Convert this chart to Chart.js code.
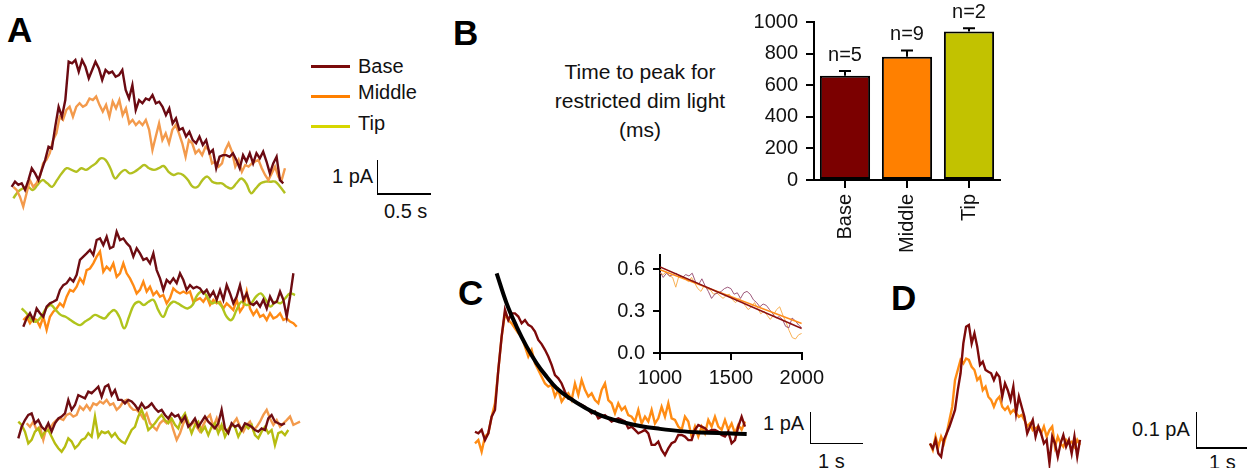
<!DOCTYPE html>
<html>
<head>
<meta charset="utf-8">
<script src="https://cdn.jsdelivr.net/npm/chart.js@4.4.0/dist/chart.umd.min.js"></script>
<style>
  body { margin: 0; background: #fff; font-family: "Liberation Sans", Arial, sans-serif; color: #111; }
  #fig { position: relative; width: 1247px; height: 468px; overflow: hidden; }
  canvas { position: absolute; }
  .txt { position: absolute; font-size: 20px; line-height: 20px; white-space: nowrap; }
  .letter { position: absolute; font-size: 35px; line-height: 35px; font-weight: bold; color: #000; }
  .key { position: absolute; left: 311px; width: 39px; height: 3px; }
  .bar { position: absolute; background: #000; }
</style>
</head>
<body>
<div id="fig">
  <div class="letter" style="left:7px;top:12px">A</div>
  <div class="letter" style="left:453px;top:15px">B</div>
  <div class="letter" style="left:458px;top:275px">C</div>
  <div class="letter" style="left:891px;top:280px">D</div>

  <div class="key" style="top:64.5px;background:#7a0a0a"></div>
  <div class="txt" style="left:358px;top:56px">Base</div>
  <div class="key" style="top:94.5px;background:#ff8000"></div>
  <div class="txt" style="left:358px;top:82px">Middle</div>
  <div class="key" style="top:124.5px;background:#d6d600"></div>
  <div class="txt" style="left:358px;top:113px">Tip</div>

  <div class="bar" style="left:376.5px;top:160px;width:1.5px;height:35px"></div>
  <div class="bar" style="left:376.5px;top:193px;width:54px;height:1.5px"></div>
  <div class="txt" style="left:332px;top:166px">1 pA</div>
  <div class="txt" style="left:384px;top:201px">0.5 s</div>

  <div class="txt" style="left:540px;top:57px;width:200px;text-align:center;font-size:21px;line-height:29px;white-space:normal">Time to peak for<br>restricted dim light<br>(ms)</div>

  <div class="bar" style="left:809.5px;top:411.5px;width:1.5px;height:32.5px"></div>
  <div class="bar" style="left:809.5px;top:442.5px;width:53px;height:1.5px"></div>
  <div class="txt" style="left:763px;top:413px">1 pA</div>
  <div class="txt" style="left:818px;top:451px">1 s</div>

  <div class="bar" style="left:1195.5px;top:411.5px;width:1.5px;height:37px"></div>
  <div class="bar" style="left:1195.5px;top:447px;width:51px;height:1.5px"></div>
  <div class="txt" style="left:1132px;top:419px">0.1 pA</div>
  <div class="txt" style="left:1209px;top:452px">1 s</div>

  <canvas id="rowOne" width="300" height="180" style="left:0;top:40px"></canvas>
  <canvas id="rowTwo" width="300" height="130" style="left:0;top:210px"></canvas>
  <canvas id="rowThree" width="305" height="100" style="left:0;top:365px"></canvas>
  <canvas id="barsB" width="280" height="260" style="left:740px;top:0"></canvas>
  <canvas id="tracesC" width="300" height="210" style="left:460px;top:260px"></canvas>
  <canvas id="insetC" width="230" height="160" style="left:600px;top:235px"></canvas>
  <canvas id="tracesD" width="230" height="160" style="left:900px;top:310px"></canvas>
</div>

<script>
Chart.defaults.font.family = '"Liberation Sans", Arial, sans-serif';
Chart.defaults.color = '#111';

// ---- panel A (current in pA, time in s) ----
var rowOneBase = [0.10,0.26,0.16,0.21,0.00,0.31,0.68,0.52,0.31,0.63,0.94,1.35,1.30,1.98,2.60,2.29,2.81,4.01,3.96,4.06,
  3.70,4.06,3.85,3.49,3.75,4.01,3.80,3.44,3.75,3.65,3.70,3.54,3.59,3.75,3.13,2.86,3.28,2.50,2.81,2.71,
  2.86,2.81,2.97,2.71,2.76,2.60,2.34,2.55,2.08,2.24,1.88,1.93,1.67,1.82,1.56,1.46,1.67,1.41,1.56,1.15,
  1.25,0.68,1.04,1.09,1.09,1.04,1.15,0.94,0.68,1.09,0.89,1.15,0.83,1.15,0.99,1.20,0.89,0.52,0.83,1.04,0.31,0.21];
var rowOneMiddle = [0.10,0.00,-0.21,-0.52,-0.10,0.31,0.10,0.21,0.42,0.83,0.94,1.15,1.56,1.77,2.29,2.19,2.50,2.60,2.29,2.60,
  2.71,2.60,2.66,2.86,2.81,2.92,2.66,2.45,2.66,2.29,2.76,2.55,2.81,2.34,2.55,2.08,2.19,2.03,2.14,2.03,
  2.19,1.88,1.25,1.67,2.08,1.56,1.77,1.46,1.88,2.03,1.77,1.46,1.04,1.56,1.46,1.15,1.25,1.09,1.35,1.25,
  0.83,0.89,0.73,0.83,1.25,1.46,1.20,0.73,0.94,0.57,0.78,0.73,0.83,0.89,0.94,0.68,0.47,0.31,0.52,0.73,0.42,0.31,0.68];
var rowOneTip = [-0.26,-0.05,0.05,0.10,0.00,0.16,0.31,0.21,0.10,0.31,0.52,0.68,0.63,0.57,0.68,0.63,0.73,0.83,0.99,0.94,
  0.68,0.36,0.52,0.63,0.52,0.57,0.68,0.78,0.68,0.63,0.68,0.75,0.57,0.47,0.52,0.47,0.31,0.10,0.10,0.31,
  0.42,0.26,0.21,0.21,0.10,0.05,0.21,0.36,0.21,-0.10,0.05,0.21,0.26,0.26,0.26,0.10,-0.10];

var rowTwoBase = [-0.21,0.05,0.21,0.00,0.36,0.21,0.10,0.42,0.52,0.57,0.63,0.94,1.09,1.15,1.30,1.20,1.41,1.88,1.98,2.08,
  2.19,2.03,2.50,2.55,2.34,2.60,2.24,2.29,2.76,2.50,2.55,2.40,2.29,1.98,2.24,2.08,1.88,1.93,1.77,2.08,
  1.56,1.30,0.94,1.25,1.15,1.30,1.15,1.46,1.25,0.94,1.09,0.99,1.04,0.99,0.83,0.94,0.73,0.89,0.63,0.94,
  0.63,1.09,0.83,0.52,0.73,1.09,0.63,0.83,0.52,0.47,0.57,0.42,0.63,0.36,0.73,0.52,0.57,0.89,0.63,0.10,0.73,1.46];
var rowTwoMiddle = [0.00,0.10,-0.10,0.05,0.00,-0.21,0.10,-0.31,0.10,0.26,0.36,0.52,0.42,0.73,0.94,0.89,1.04,1.30,1.15,1.56,
  1.61,1.77,1.98,2.14,1.51,1.67,1.56,1.77,1.35,1.46,1.77,1.46,1.30,1.09,0.83,0.94,1.20,0.89,1.04,0.78,
  0.89,0.73,0.78,0.52,0.68,0.99,0.89,0.83,0.89,0.83,0.89,0.57,0.63,0.68,0.57,0.73,0.47,0.63,0.52,0.57,
  0.36,0.52,0.42,0.31,0.63,0.26,0.42,0.89,0.36,0.16,0.31,0.10,0.16,0.00,0.21,0.05,0.10,0.21,0.00,0.05,-0.05,-0.10,-0.21];
var rowTwoTip = [0.36,0.21,0.00,-0.05,0.10,0.36,0.47,0.31,0.16,0.10,0.00,-0.10,-0.16,-0.05,0.05,0.16,0.10,0.05,0.21,0.31,
  0.10,-0.26,0.10,0.47,0.57,0.47,0.57,0.63,0.31,0.10,0.42,0.57,0.52,0.42,0.36,0.47,0.78,0.89,0.73,0.52,
  0.57,0.42,0.10,0.00,0.31,0.57,0.47,0.52,0.73,0.83,0.63,0.42,0.57,0.52,0.68,0.83,0.78];

var rowThreeBase = [-0.26,0.10,0.31,0.47,0.52,0.21,0.31,0.10,0.00,0.21,-0.05,0.21,0.36,0.42,0.52,0.94,0.63,0.78,1.09,1.04,
  0.99,1.20,1.15,1.25,1.35,1.04,1.35,1.41,1.09,1.25,0.94,0.94,0.83,0.94,0.89,0.78,0.63,0.83,0.68,0.73,
  0.83,0.68,0.57,0.63,0.47,0.36,0.52,0.42,0.47,0.26,0.42,0.10,0.21,0.36,0.10,0.26,0.42,0.26,0.16,0.05,
  0.21,0.63,0.05,-0.10,0.21,0.10,0.16,0.00,0.21,0.16,0.10,0.00,-0.05,0.05,0.00,0.36,0.47,0.26,0.21,0.16,0.21];
var rowThreeMiddle = [0.21,0.10,0.26,0.00,0.10,-0.31,0.10,0.05,0.21,0.31,0.36,0.31,0.47,0.52,0.42,0.47,0.73,0.63,0.78,0.63,
  0.83,0.78,0.89,0.83,0.94,0.78,0.83,0.63,0.73,0.89,0.94,0.73,0.63,0.63,0.52,0.36,0.52,0.21,0.10,0.00,
  0.21,0.31,0.21,0.36,0.00,-0.31,-0.10,0.21,0.36,0.10,0.26,0.10,-0.05,0.16,0.36,0.47,0.10,0.36,0.00,0.10,
  -0.05,0.10,0.21,0.36,0.10,-0.05,0.16,0.26,0.00,0.10,0.26,0.47,0.63,0.36,0.16,0.31,0.10,0.21,0.31,0.42,0.16,0.21,0.26];
var rowThreeTip = [0.26,0.16,-0.05,-0.42,-0.31,-0.05,0.05,-0.21,-0.05,0.00,-0.21,-0.42,-0.57,-0.68,-0.52,-0.26,-0.36,-0.57,-0.47,-0.31,
  -0.26,-0.10,-0.21,0.42,-0.21,-0.05,-0.10,-0.05,-0.21,-0.10,-0.26,-0.36,-0.42,-0.21,0.00,0.10,0.42,0.63,0.36,0.00,
  0.10,0.21,0.36,0.47,0.31,0.21,0.36,0.16,0.05,0.36,0.52,0.21,-0.10,0.16,0.26,-0.05,0.10,-0.16,0.10,0.21,
  -0.10,0.16,-0.21,0.00,0.16,0.10,-0.21,0.00,0.16,0.05,0.16,-0.16,-0.26,-0.05,0.10,-0.10,0.00,-0.47,-0.10,-0.05,-0.16,0.00];

// ---- panel B ----
var regions = ['Base', 'Middle', 'Tip'];
var peakTimes = [660, 780, 940];
var peakErrors = [30, 40, 20];
var cellCounts = ['n=5', 'n=9', 'n=2'];

// ---- panel C ----
var cBase = [0.07,0.02,0.13,-0.19,0.02,0.54,0.75,2.00,3.04,3.88,3.56,3.77,3.77,3.67,3.46,3.56,3.41,3.35,3.20,2.94,
  2.81,2.63,2.42,2.16,1.84,1.74,1.58,1.32,1.11,1.11,1.01,0.96,0.91,0.85,0.75,0.65,0.70,0.49,0.54,0.59,
  0.49,0.39,0.44,0.49,0.44,0.39,0.18,0.23,0.13,0.02,0.07,0.13,0.02,-0.34,-0.34,-0.24,-0.50,-0.66,-0.45,-0.29,
  -0.24,-0.03,-0.03,-0.08,-0.19,-0.19,0.13,0.28,0.23,0.18,0.07,0.13,0.13,0.07,-0.03,-0.08,0.07,-0.29,-0.19,0.23,0.54,0.23];
var cMiddle = [-0.29,-0.19,-0.55,-0.08,0.02,0.54,0.96,2.00,3.04,3.77,3.56,3.46,3.30,3.15,3.04,2.73,2.42,2.63,2.21,2.00,
  1.79,1.58,1.48,1.53,1.17,1.38,1.01,1.17,1.27,1.06,1.58,1.22,1.69,1.38,1.17,1.27,1.06,0.96,1.38,1.58,
  1.06,0.96,0.65,0.96,0.75,0.85,0.59,0.54,0.39,0.75,0.33,0.54,0.39,0.75,0.33,0.49,0.85,0.54,0.96,0.49,
  0.44,0.23,0.13,0.54,0.39,-0.08,0.23,-0.08,0.23,0.02,0.44,0.23,0.54,0.23,0.13,0.44,0.13,0.33,0.02,0.28,0.13,0.39];
var cFitTimes = [0.705,0.897,1.090,1.282,1.474,1.667,1.859,2.115,2.372,2.692,3.077,3.462,3.846,4.231,4.615,5.128,5.513];
var cFitValues = [5.02,4.08,3.35,2.73,2.21,1.79,1.43,1.11,0.85,0.59,0.39,0.25,0.16,0.09,0.05,0.02,0.00];

// inset: normalised current vs time (ms)
var insetBase = [0.58,0.54,0.57,0.55,0.56,0.57,0.55,0.54,0.56,0.55,0.57,0.51,0.49,0.53,0.48,0.44,0.39,0.42,0.43,0.44,
  0.46,0.47,0.46,0.42,0.43,0.39,0.43,0.44,0.42,0.38,0.36,0.33,0.35,0.34,0.31,0.28,0.25,0.26,0.24,0.19,
  0.18,0.25,0.23,0.20,0.18];
var insetMiddle = [0.57,0.56,0.58,0.55,0.54,0.47,0.55,0.54,0.53,0.51,0.54,0.50,0.46,0.44,0.48,0.46,0.45,0.42,0.43,0.41,
  0.39,0.41,0.42,0.38,0.36,0.39,0.37,0.34,0.31,0.33,0.36,0.32,0.28,0.30,0.27,0.24,0.27,0.31,0.33,0.27,
  0.22,0.16,0.11,0.10,0.13,0.14];
var insetFitTimes = [1000, 2000];
var insetFitBase = [0.615, 0.175];
var insetFitMiddle = [0.595, 0.21];

// ---- panel D ----
var dBase = [0.009,-0.005,0.019,-0.019,-0.028,0.019,0.037,0.056,0.079,0.102,0.157,0.204,0.287,0.333,0.338,0.287,0.315,0.278,0.227,0.236,
  0.213,0.208,0.204,0.185,0.204,0.194,0.139,0.176,0.157,0.130,0.167,0.093,0.139,0.111,0.083,0.037,0.056,0.074,0.028,0.056,
  0.037,0.009,0.019,-0.046,0.028,0.009,-0.028,0.009,0.032,0.000,0.019,-0.019,0.028,-0.028,0.019];
var dMiddle = [0.009,-0.009,0.028,0.000,0.028,0.009,0.037,0.074,0.111,0.185,0.213,0.241,0.231,0.245,0.241,0.222,0.213,0.185,0.194,0.157,
  0.167,0.139,0.130,0.111,0.130,0.139,0.111,0.102,0.111,0.093,0.102,0.093,0.083,0.088,0.074,0.056,0.065,0.046,0.051,0.056,
  0.037,0.056,0.028,0.046,0.056,0.000,0.028,0.009,0.000,0.019,0.009,0.014,0.000,0.019,0.005];

function series(values, t0, t1) {
  var step = (t1 - t0) / (values.length - 1);
  return values.map(function (v, i) { return { x: t0 + i * step, y: v }; });
}

function pairs(xs, ys) {
  return xs.map(function (x, i) { return { x: x, y: ys[i] }; });
}

function traceChart(id, xMax, yMin, yMax, sets) {
  return new Chart(document.getElementById(id), {
    type: 'line',
    data: {
      datasets: sets.map(function (s) {
        return {
          data: s.data,
          borderColor: s.color,
          borderWidth: s.width || 2.4,
          pointRadius: 0,
          tension: s.smooth ? 0.4 : 0,
          fill: false
        };
      })
    },
    options: {
      responsive: false,
      animation: false,
      events: [],
      layout: { padding: 0 },
      plugins: { legend: { display: false }, tooltip: { enabled: false } },
      scales: {
        x: { type: 'linear', display: false, min: 0, max: xMax },
        y: { type: 'linear', display: false, min: yMin, max: yMax }
      }
    }
  });
}

traceChart('rowOne', 300 / 104, -0.9375, 4.6875, [
  { data: series(rowOneBase, 0.112, 2.724), color: '#6b0a12' },
  { data: series(rowOneMiddle, 0.128, 2.740), color: '#f39a4c' },
  { data: series(rowOneTip, 0.128, 2.740), color: '#b3c020', smooth: true }
]);
traceChart('rowTwo', 300 / 104, -0.625, 3.4375, [
  { data: series(rowTwoBase, 0.224, 2.821), color: '#6e0d12' },
  { data: series(rowTwoTip, 0.208, 2.837), color: '#b0c41c', smooth: true },
  { data: series(rowTwoMiddle, 0.224, 2.853), color: '#ff8a14' }
]);
traceChart('rowThree', 305 / 104, -1.09375, 2.03125, [
  { data: series(rowThreeBase, 0.176, 2.740), color: '#6e0d12' },
  { data: series(rowThreeTip, 0.176, 2.772), color: '#b6bc10' },
  { data: series(rowThreeMiddle, 0.256, 2.885), color: '#f39a4c' }
]);

traceChart('tracesC', 300 / 52, -1.125, 5.4375, [
  { data: pairs(cFitTimes, cFitValues), color: '#000', width: 4, smooth: true },
  { data: series(cBase, 0.288, 5.48), color: '#7d0a0a' },
  { data: series(cMiddle, 0.288, 5.48), color: '#ff8c14' }
]);

traceChart('tracesD', 230 / 50, -0.0647, 0.3797, [
  { data: series(dBase, 0.6, 3.6), color: '#7d0a0a' },
  { data: series(dMiddle, 0.6, 3.6), color: '#ff8c14' }
]);

// ---- bar chart with error bars and n labels ----
var errorBars = {
  id: 'errorBars',
  afterDatasetsDraw: function (chart) {
    var ctx = chart.ctx;
    var y = chart.scales.y;
    var meta = chart.getDatasetMeta(0);
    ctx.save();
    ctx.strokeStyle = '#000';
    ctx.lineWidth = 2;
    ctx.fillStyle = '#111';
    ctx.font = '20px "Liberation Sans", Arial, sans-serif';
    ctx.textAlign = 'center';
    meta.data.forEach(function (bar, i) {
      var top = y.getPixelForValue(peakTimes[i] + peakErrors[i]);
      ctx.beginPath();
      ctx.moveTo(bar.x, bar.y);
      ctx.lineTo(bar.x, top);
      ctx.moveTo(bar.x - 6, top);
      ctx.lineTo(bar.x + 6, top);
      ctx.stroke();
      ctx.fillText(cellCounts[i], bar.x, top - 10);
    });
    ctx.restore();
  }
};

new Chart(document.getElementById('barsB'), {
  type: 'bar',
  data: {
    labels: regions,
    datasets: [{
      data: peakTimes,
      backgroundColor: ['#7b0000', '#ff8000', '#c2c200'],
      borderColor: '#000',
      borderWidth: 2,
      borderSkipped: false,
      categoryPercentage: 1,
      barPercentage: 0.81
    }]
  },
  options: {
    responsive: false,
    animation: false,
    events: [],
    layout: { padding: { top: 22, right: 20, left: 0, bottom: 0 } },
    plugins: { legend: { display: false }, tooltip: { enabled: false } },
    scales: {
      x: {
        grid: { display: true, drawOnChartArea: false, drawTicks: true, tickLength: 8, color: '#000', tickColor: '#000', lineWidth: 2, offset: false },
        border: { display: true, color: '#000', width: 2 },
        ticks: { color: '#111', font: { size: 20 }, minRotation: 90, maxRotation: 90, padding: 6 },
        afterFit: function (s) { s.height = 80; }
      },
      y: {
        min: 0, max: 1000,
        grid: { display: true, drawOnChartArea: false, drawTicks: true, tickLength: 8, color: '#000', tickColor: '#000', lineWidth: 2 },
        border: { display: true, color: '#000', width: 2 },
        ticks: { stepSize: 200, color: '#111', font: { size: 20 }, padding: 8, callback: function (v) { return String(v); } },
        afterFit: function (s) { s.width = 74; }
      }
    }
  },
  plugins: [errorBars]
});

// ---- inset of panel C ----
new Chart(document.getElementById('insetC'), {
  type: 'line',
  data: {
    datasets: [
      { data: pairs(insetFitTimes, insetFitBase), borderColor: '#8b1010', borderWidth: 1.6, pointRadius: 0 },
      { data: pairs(insetFitTimes, insetFitMiddle), borderColor: '#ff8c1a', borderWidth: 1.6, pointRadius: 0 },
      { data: series(insetBase, 1000, 2000), borderColor: 'rgba(140,60,100,0.85)', borderWidth: 1, pointRadius: 0 },
      { data: series(insetMiddle, 1000, 2000), borderColor: 'rgba(247,168,68,0.9)', borderWidth: 1, pointRadius: 0 }
    ]
  },
  options: {
    responsive: false,
    animation: false,
    events: [],
    layout: { padding: { top: 12, right: 23, left: 0, bottom: 0 } },
    plugins: { legend: { display: false }, tooltip: { enabled: false } },
    scales: {
      x: {
        type: 'linear', min: 1000, max: 2000,
        grid: { display: true, drawOnChartArea: false, drawTicks: true, tickLength: 7, color: '#000', tickColor: '#000', lineWidth: 2 },
        border: { display: true, color: '#000', width: 2 },
        ticks: { stepSize: 500, color: '#111', font: { size: 20 }, padding: 6, maxRotation: 0, callback: function (v) { return String(v); } },
        afterFit: function (s) { s.height = 42; }
      },
      y: {
        type: 'linear', min: 0, max: 0.7,
        afterBuildTicks: function (s) { s.ticks = [0, 0.3, 0.6].map(function (v) { return { value: v }; }); },
        grid: { display: true, drawOnChartArea: false, drawTicks: true, tickLength: 7, color: '#000', tickColor: '#000', lineWidth: 2 },
        border: { display: true, color: '#000', width: 2 },
        ticks: { color: '#111', font: { size: 20 }, padding: 8, callback: function (v) { return Number(v).toFixed(1); } },
        afterFit: function (s) { s.width = 60; }
      }
    }
  }
});
</script>
</body>
</html>
